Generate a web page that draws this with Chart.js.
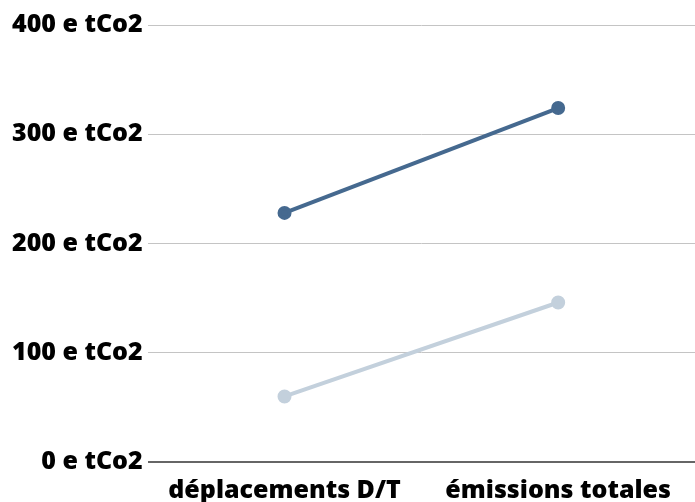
<!DOCTYPE html>
<html>
<head>
<meta charset="utf-8">
<script src="https://cdn.jsdelivr.net/npm/chart.js@4"></script>
<style>
  html, body { margin: 0; padding: 0; background: #fff; overflow: hidden; }
  #wrap { width: 704px; height: 502px; }
</style>
</head>
<body>
<div id="wrap"><canvas id="chart"></canvas></div>
<script>
const categories = ['déplacements D/T', 'émissions totales'];
const darkSeries = [228, 324];
const lightSeries = [60, 146];
const yTicks = [0, 100, 200, 300, 400];

const font = { family: 'Open Sans', weight: 800, size: 25 };

new Chart(document.getElementById('chart').getContext('2d'), {
  type: 'line',
  data: {
    labels: categories,
    datasets: [{
      data: darkSeries,
      borderColor: '#45698f',
      backgroundColor: '#45698f',
      borderWidth: 4,
      pointRadius: 5,
      pointHoverRadius: 5
    }, {
      data: lightSeries,
      borderColor: '#c3d0dc',
      backgroundColor: '#c3d0dc',
      borderWidth: 4,
      pointRadius: 5,
      pointHoverRadius: 5
    }]
  },
  options: {
    responsive: true,
    maintainAspectRatio: false,
    animation: false,
    layout: { padding: { top: 25, right: 0, bottom: -18, left: 7 } },
    plugins: { legend: { display: false }, tooltip: { enabled: false } },
    scales: {
      x: {
        offset: true,
        grid: { display: false, drawTicks: false },
        border: { display: false },
        ticks: { color: '#000', font: font, padding: 14, maxRotation: 0 },
        afterFit: s => { s.paddingLeft = 0; s.paddingRight = 0; }
      },
      y: {
        min: 0, max: 400,
        afterBuildTicks: axis => { axis.ticks = yTicks.map(v => ({ value: v })); },
        grid: {
          drawTicks: false,
          color: ctx => ctx.tick && ctx.tick.value === 0 ? '#666' : '#c4c4c4',
          lineWidth: ctx => ctx.tick && ctx.tick.value === 0 ? 2 : 1
        },
        border: { display: false },
        ticks: { color: '#000', font: font, padding: 5, callback: v => v + ' e tCo2' }
      }
    }
  }
});
</script>
</body>
</html>
